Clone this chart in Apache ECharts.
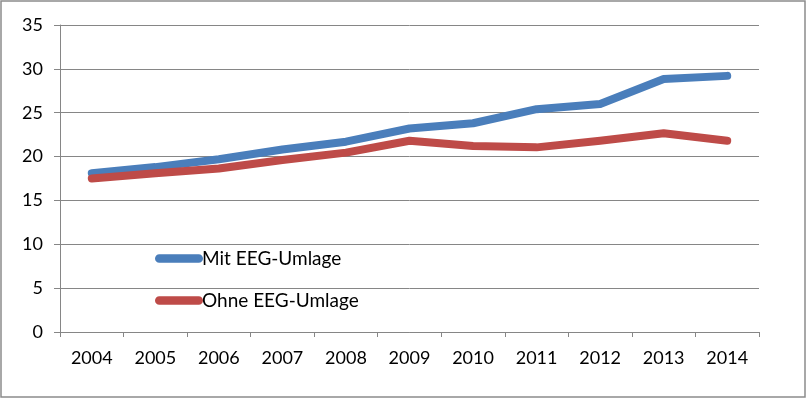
<!DOCTYPE html>
<html>
<head>
<meta charset="utf-8">
<script src="https://cdn.jsdelivr.net/npm/echarts@6/dist/echarts.min.js"></script>
<style>
html, body { margin: 0; padding: 0; background: #fff; }
#main { width: 807px; height: 399px; }
</style>
</head>
<body>
<div id="main"></div>
<script>
var years = ['2004', '2005', '2006', '2007', '2008', '2009', '2010', '2011', '2012', '2013', '2014'];
var mitEEG = [18.1, 18.8, 19.7, 20.8, 21.7, 23.2, 23.8, 25.4, 26.0, 28.85, 29.2];
var ohneEEG = [17.5, 18.1, 18.65, 19.6, 20.45, 21.8, 21.2, 21.05, 21.8, 22.65, 21.8];

var ec_main = echarts.init(document.getElementById('main'));
var capsule = 'path://M4,0 H41 A4,4 0 0 1 41,8 H4 A4,4 0 0 1 4,0 Z';
var ec_main_option = {
	animation: false,
	textStyle: { fontFamily: 'Lato' },
	graphic: [{
		type: 'rect',
		shape: { x: 1, y: 1, width: 804, height: 396 },
		style: { fill: 'none', stroke: '#8c8c8c', lineWidth: 1.5 }
	}],
	legend: {
		orient: 'vertical',
		left: 150,
		top: 244,
		itemWidth: 48,
		itemHeight: 9,
		itemGap: 23,
		data: [
			{ name: 'Mit EEG-Umlage', icon: capsule },
			{ name: 'Ohne EEG-Umlage', icon: capsule }
		],
		textStyle: { fontSize: 19, color: '#000', padding: [4, 0, 0, -6] }
	},
	grid: {
		left: 60,
		right: 48,
		top: 25,
		bottom: 67
	},
	xAxis: {
		type: 'category',
		boundaryGap: true,
		data: years,
		axisLine: { lineStyle: { color: '#868686', width: 1 } },
		axisTick: { show: true, length: 5, lineStyle: { color: '#868686' } },
		axisLabel: { fontSize: 18, color: '#000', margin: 17 }
	},
	yAxis: {
		type: 'value',
		min: 0,
		max: 35,
		interval: 5,
		axisLine: { show: true, lineStyle: { color: '#868686', width: 1 } },
		axisTick: { show: true, length: 6, lineStyle: { color: '#868686' } },
		axisLabel: { fontSize: 18, color: '#000', margin: 17 },
		splitLine: { lineStyle: { color: '#868686', width: 1 } }
	},
	series: [
		{
			name: 'Mit EEG-Umlage',
			type: 'line',
			data: mitEEG,
			symbol: 'none',
			lineStyle: { color: '#4a7ebb', width: 8, cap: 'round', join: 'round' },
			itemStyle: { color: '#4a7ebb' }
		},
		{
			name: 'Ohne EEG-Umlage',
			type: 'line',
			data: ohneEEG,
			symbol: 'none',
			lineStyle: { color: '#be4b48', width: 8, cap: 'round', join: 'round' },
			itemStyle: { color: '#be4b48' }
		}
	]
};
ec_main.setOption(ec_main_option);
</script>
</body>
</html>
